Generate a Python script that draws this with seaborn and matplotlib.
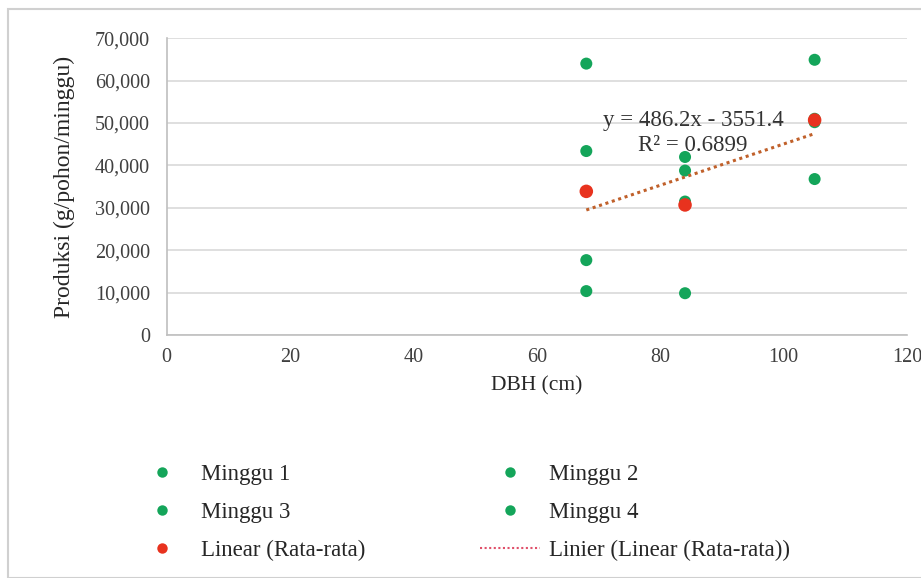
import numpy as np
import pandas as pd
import seaborn as sns
import matplotlib.pyplot as plt
from matplotlib.lines import Line2D
from matplotlib.patches import Rectangle
from matplotlib.ticker import FuncFormatter

# DBH (cm) per tree, weekly production (g/pohon/minggu)
dbh = [68, 84, 105]
minggu_1 = [64000, 42000, 64900]
minggu_2 = [43400, 38800, 51000]
minggu_3 = [17700, 31500, 36800]
minggu_4 = [10400, 9900, 50200]
rata_rata = [33900, 30700, 50700]
trend_slope = 486.2
trend_intercept = -3551.4
r_squared = 0.6899

GREEN = '#14A55A'
RED = '#E8321E'
TREND = '#C0602A'

sns.set_theme(style='white')
plt.rcParams['font.family'] = ['Liberation Serif', 'DejaVu Serif']

rows = []
for name, vals in [('Minggu 1', minggu_1), ('Minggu 2', minggu_2),
                   ('Minggu 3', minggu_3), ('Minggu 4', minggu_4)]:
    for x, y in zip(dbh, vals):
        rows.append({'DBH': x, 'Produksi': y, 'Seri': name})
df = pd.DataFrame(rows)
df_avg = pd.DataFrame({'DBH': dbh, 'Produksi': rata_rata})

fig = plt.figure(figsize=(9.21, 5.78), dpi=100)
ax = fig.add_axes([0.181, 0.420, 0.804, 0.514])

sns.scatterplot(data=df, x='DBH', y='Produksi', hue='Seri',
                palette=[GREEN] * 4, s=75, edgecolor='none', legend=False,
                ax=ax, zorder=3)
sns.scatterplot(data=df_avg, x='DBH', y='Produksi', color=RED, s=95,
                edgecolor='none', legend=False, ax=ax, zorder=4)

xt = np.array([min(dbh), max(dbh)])
ax.plot(xt, trend_slope * xt + trend_intercept, linestyle=(0, (1, 1.2)),
        color=TREND, lw=2.2, zorder=5)

ax.text(85.3, 50500, f'y = {trend_slope}x - {abs(trend_intercept)}', fontsize=16.5,
        ha='center', va='center', color='#333333', zorder=6)
ax.text(85.3, 44600, f'R² = {r_squared:.4f}', fontsize=16.5,
        ha='center', va='center', color='#333333', zorder=6)

ax.set_xlim(0, 120)
ax.set_ylim(0, 70000)
ax.set_xticks(range(0, 121, 20))
ax.set_yticks(range(0, 70001, 10000))
ax.yaxis.set_major_formatter(FuncFormatter(lambda v, p: f'{int(v):,}'))
ax.tick_params(axis='y', labelsize=14.5, length=0, colors='#404040', pad=12)
ax.tick_params(axis='x', labelsize=14.5, length=0, colors='#404040', pad=9)
ax.grid(axis='y', color='#D9D9D9', lw=1.2)
ax.grid(axis='x', visible=False)
for side in ['top', 'right']:
    ax.spines[side].set_visible(False)
for side in ['left', 'bottom']:
    ax.spines[side].set_color('#BFBFBF')
    ax.spines[side].set_linewidth(1.2)

ax.set_xlabel('DBH (cm)', fontsize=15.5, color='#262626', labelpad=7)
ax.set_ylabel('Produksi (g/pohon/minggu)', fontsize=17, color='#262626', labelpad=14)

# Excel-style chart border
fig.patches.append(Rectangle((8 / 921, 0), 1, 1 - 9 / 578, transform=fig.transFigure,
                             fill=False, edgecolor='#D0D0D0', lw=1.5))

mk = dict(marker='o', linestyle='none', markersize=7.5, markeredgewidth=0)
handles = [
    Line2D([], [], color=GREEN, **mk),
    Line2D([], [], color=GREEN, **mk),
    Line2D([], [], color=RED, **mk),
    Line2D([], [], color=GREEN, **mk),
    Line2D([], [], color=GREEN, **mk),
    Line2D([], [], color='#E0506A', linestyle=(0, (1, 1.2)), lw=1.5),
]
labels = ['Minggu 1', 'Minggu 3', 'Linear (Rata-rata)',
          'Minggu 2', 'Minggu 4', 'Linier (Linear (Rata-rata))']
fig.legend(handles, labels, ncol=2, loc='upper left', bbox_to_anchor=(0.144, 0.197),
           frameon=False, fontsize=16.5, labelspacing=0.73, columnspacing=5.0,
           handlelength=2.6, handletextpad=0.4, borderpad=0, borderaxespad=0,
           labelcolor='#262626')

fig.savefig('out.png', dpi=100)
